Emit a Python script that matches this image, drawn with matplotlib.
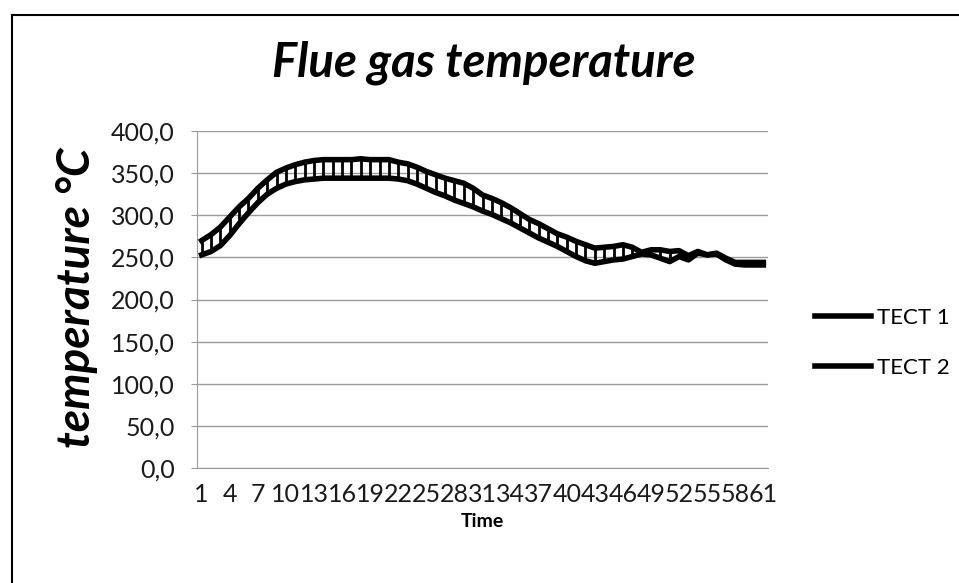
import matplotlib
matplotlib.use("Agg")
import matplotlib.pyplot as plt
from matplotlib.lines import Line2D
from matplotlib.ticker import FuncFormatter

# values, one per time step (1..61)
time = list(range(1, 62))
tect1 = [270, 277, 286, 298, 310, 320, 332, 342, 351, 356,
         360, 363, 365, 366, 366, 366, 366, 367, 366, 366,
         366, 363, 361, 357, 352, 348, 344, 341, 338, 332,
         324, 320, 315, 309, 302, 295, 290, 284, 278, 274,
         269, 265, 261, 262, 263, 265, 262, 256, 259, 259,
         257, 258, 252, 257, 253, 255, 249, 244, 244, 244, 244]
tect2 = [253, 257, 264, 276, 290, 303, 315, 325, 332, 337,
         340, 342, 343, 344, 344, 344, 344, 344, 344, 344,
         344, 343, 341, 337, 332, 327, 323, 318, 314, 310,
         305, 301, 296, 291, 285, 279, 273, 268, 263, 257,
         251, 246, 243, 245, 247, 248, 251, 254, 253, 249,
         245, 251, 247, 255, 253, 254, 247, 242, 241, 241, 241]
series_names = ["TECT 1", "TECT 2"]
yticks = [0, 50, 100, 150, 200, 250, 300, 350, 400]
xticks = time[::3]

plt.rcParams['font.family'] = ['Lato', 'DejaVu Sans']


def main():
    fig = plt.figure(figsize=(9.59, 5.83), dpi=100)
    ax = fig.add_axes([197 / 959, 1 - 468 / 583, 571 / 959, 337 / 583])

    # high-low lines between the two runs
    ax.vlines(time, tect2, tect1, colors='black', lw=2.0, zorder=3)
    ax.plot(time, tect1, color='black', lw=4.0, label=series_names[0], zorder=4)
    ax.plot(time, tect2, color='black', lw=4.0, label=series_names[1], zorder=4)

    ax.set_xlim(0.5, 61.5)
    ax.set_ylim(0, 400)
    ax.set_yticks(yticks)
    ax.set_xticks(xticks)
    ax.yaxis.set_major_formatter(FuncFormatter(lambda v, p: f"{v:.1f}".replace('.', ',')))
    ax.yaxis.grid(True, color='#9a9a9a', lw=1.0)
    ax.set_axisbelow(True)
    for s in ['top', 'right']:
        ax.spines[s].set_visible(False)
    for s in ['left', 'bottom']:
        ax.spines[s].set_color('#9a9a9a')
    ax.tick_params(axis='y', length=4, color='#9a9a9a', pad=12, labelsize=18, labelcolor='#1a1a1a')
    ax.tick_params(axis='x', length=0, pad=11, labelsize=18, labelcolor='#1a1a1a')

    ax.set_xlabel("Time", fontsize=14, fontweight='bold', labelpad=5)
    fig.text(77 / 959, 1 - 298 / 583, "temperature °C", rotation=90, ha='center', va='center',
             fontsize=33, fontweight='bold', fontstyle='italic')
    fig.text(484 / 959, 1 - 63 / 583, "Flue gas temperature", ha='center', va='center',
             fontsize=34, fontweight='bold', fontstyle='italic')

    fig.legend(loc='center left', bbox_to_anchor=(815 / 959, 1 - 343 / 583), frameon=False,
               fontsize=16, handlelength=2.5, handletextpad=0.3, labelspacing=1.35,
               borderpad=0, borderaxespad=0)

    # scanned page frame
    fig.add_artist(Line2D([12 / 959, 1], [1 - 15 / 583, 1 - 15 / 583], color='black', lw=1.5))
    fig.add_artist(Line2D([12 / 959, 12 / 959], [0, 1 - 15 / 583], color='black', lw=1.5))

    fig.savefig("out.png", dpi=100)


if __name__ == "__main__":
    main()
